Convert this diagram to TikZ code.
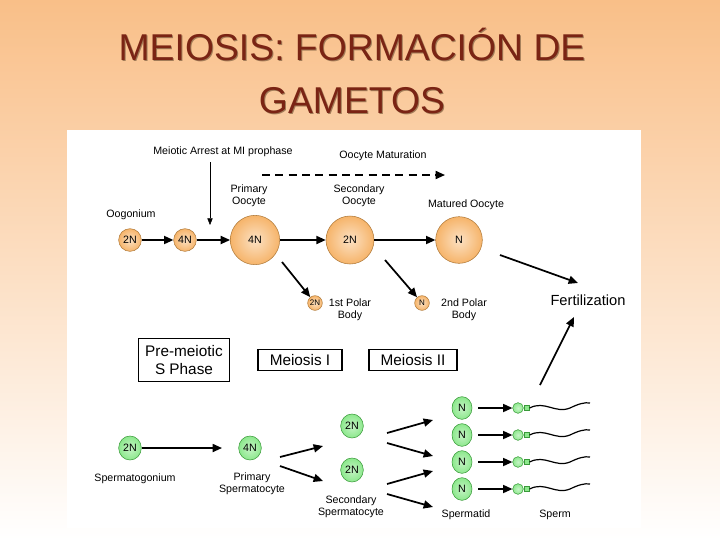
\documentclass[tikz,border=0pt]{standalone}
\usepackage{fontspec}
\setmainfont{Liberation Sans}
\usetikzlibrary{arrows.meta,shapes.geometric}
\definecolor{bgtop}{HTML}{F9BF88}
\definecolor{oo}{HTML}{F6B46A}
\definecolor{ooe}{HTML}{B07A3A}
\definecolor{gr}{HTML}{8CE88C}
\definecolor{gre}{HTML}{3A9A3A}
\definecolor{ttl}{HTML}{7A2414}
\begin{document}
\begin{tikzpicture}[x=0.75pt,y=-0.75pt,
 lab/.style={font=\fontsize{8}{9}\selectfont,align=center,inner sep=0pt},
 oc/.style={circle,draw=ooe,thin,inner sep=0pt,shade,inner color=oo!40,outer color=oo,font=\fontsize{8}{9}\selectfont},
 gc/.style={ellipse,draw=gre,thin,inner sep=0pt,shade,inner color=gr!50,outer color=gr,font=\fontsize{8}{9}\selectfont},
 ar/.style={-{Triangle[length=7pt,width=6pt]},line width=1.3pt},
 bx/.style={draw,line width=0.8pt,font=\fontsize{11.5}{13}\selectfont,align=center,inner sep=2pt}]
\useasboundingbox (0,0) rectangle (720,540);
\shade[top color=bgtop,bottom color=white] (0,0) rectangle (720,540);
\fill[white] (67,130) rectangle (641,528);
\node[font=\fontsize{28}{40}\selectfont,text=black!35!bgtop,align=center] at (353,72) {MEIOSIS: FORMACIÓN DE\\GAMETOS};
\node[font=\fontsize{28}{40}\selectfont,text=ttl,align=center] (t) at (352,71) {MEIOSIS: FORMACIÓN DE\\GAMETOS};
% oocyte row
\node[lab] (ma) at (223,152) {Meiotic Arrest at MI prophase};
\coordinate (mae) at (210,225);
\draw[-{Triangle[length=5pt,width=4pt]},thin] (210,162) -- (mae);
\node[lab] (om) at (383,156) {Oocyte Maturation};
\coordinate (d1) at (262,175); \coordinate (d2) at (445,175);
\draw[ar,dashed,dash pattern=on 6pt off 4pt] (d1) -- (d2);
\node[lab] (ogl) at (131,215) {Oogonium};
\node[oc,minimum size=17pt] (og) at (130,240) {2N};
\node[oc,minimum size=17pt] (og4) at (185,240) {4N};
\node[lab] (pol) at (249,196) {Primary\\Oocyte};
\node[oc,minimum size=37pt] (po) at (255,240) {4N};
\node[lab] (sol) at (359,196) {Secondary\\Oocyte};
\node[oc,minimum size=36pt] (so) at (350,240) {2N};
\node[lab] (mol) at (466,205) {Matured Oocyte};
\node[oc,minimum size=35pt] (mo) at (459,240) {N};
\node[oc,minimum size=11pt,font=\fontsize{6}{7}\selectfont] (p1) at (315,303) {2N};
\node[lab] (p1l) at (350,310) {1st Polar\\Body};
\node[oc,minimum size=11pt,font=\fontsize{6}{7}\selectfont] (p2) at (422,303) {N};
\node[lab] (p2l) at (464,310) {2nd Polar\\Body};
\node[font=\fontsize{11}{12}\selectfont,inner sep=0pt] (fe) at (588,300) {Fertilization};
\draw[ar] (og) -- (og4);
\draw[ar] (og4) -- (po);
\draw[ar] (po) -- (so);
\draw[ar] (so) -- (mo);
\draw[ar] (282,262) -- (p1);
\draw[ar] (385,260) -- (p2);
\draw[ar] (500,255) -- (578,283);
% boxes
\node[bx,minimum width=68pt,minimum height=32pt] (b1) at (184,360) {Pre-meiotic\\S Phase};
\node[bx,minimum width=63pt,minimum height=16pt] (b2) at (300,360) {Meiosis I};
\node[bx,minimum width=66pt,minimum height=16pt] (b3) at (413,360) {Meiosis II};
% sperm row
\node[gc,minimum width=17pt,minimum height=18pt] (sg) at (130,448) {2N};
\node[lab] (sgl) at (135,479) {Spermatogonium};
\node[gc,minimum width=17pt,minimum height=18pt] (ps) at (250,448) {4N};
\node[lab] (psl) at (252,484) {Primary\\Spermatocyte};
\node[gc,minimum width=17pt,minimum height=18pt] (s1) at (352,426) {2N};
\node[gc,minimum width=17pt,minimum height=18pt] (s2) at (352,470) {2N};
\node[lab] (ssl) at (351,507) {Secondary\\Spermatocyte};
\foreach \i/\y in {1/408,2/435,3/462,4/489}{
 \node[gc,minimum width=15pt,minimum height=17pt] (n\i) at (462,\y) {N};
 \node[circle,draw=gre,shade,inner color=gr!50,outer color=gr,minimum size=8pt,inner sep=0pt] (h\i) at (518,\y) {};
 \node[draw=gre,fill=gr,minimum size=3.5pt,inner sep=0pt] (k\i) at (527,\y) {};
 \draw[line width=0.9pt] (k\i.east) .. controls (545,\y-8) and (555,\y+6) .. (570,\y) .. controls (578,\y-4) and (585,\y-6) .. (590,\y-5);
 \draw[ar] (478,\y) -- (h\i);
}
\node[lab] (stl) at (466,515) {Spermatid};
\node[lab] (spl) at (555,515) {Sperm};
\draw[ar] (sg) -- (222,448);
\draw[ar] (280,457) -- (323,446);
\draw[ar] (280,466) -- (323,481);
\draw[ar] (387,433) -- (433,420);
\draw[ar] (387,443) -- (433,456);
\draw[ar] (387,484) -- (433,471);
\draw[ar] (387,494) -- (433,507);
\draw[ar] (540,385) -- (574,317);
\end{tikzpicture}
\end{document}
